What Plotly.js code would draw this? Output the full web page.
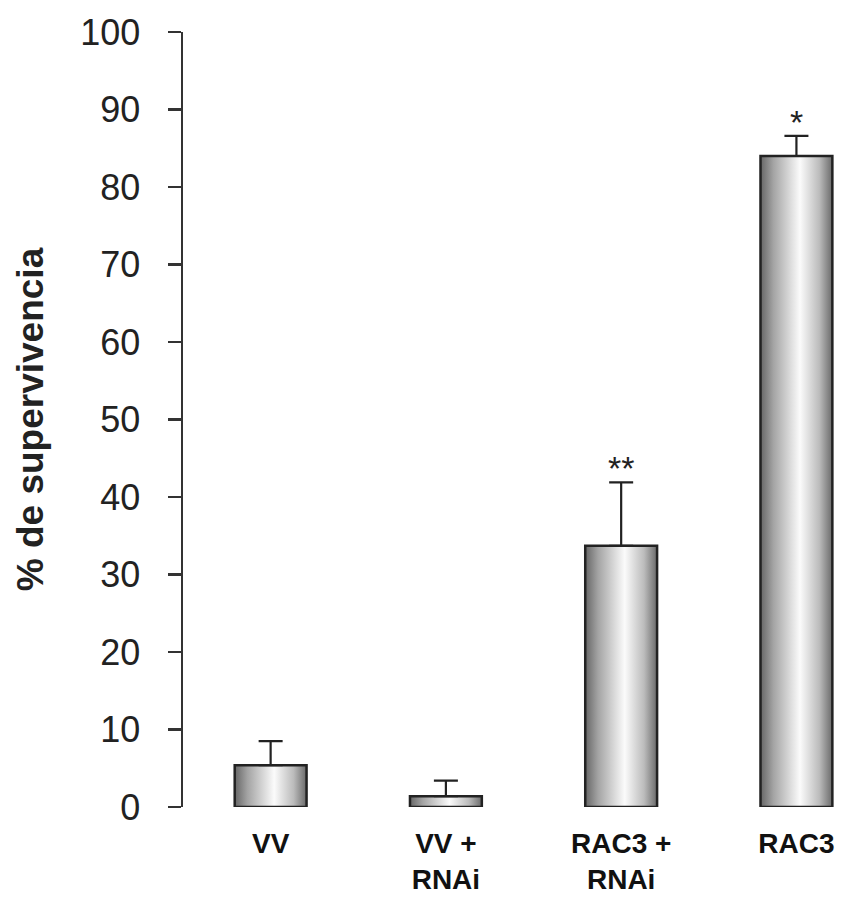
<!DOCTYPE html>
<html>
<head>
<meta charset="utf-8">
<script src="https://cdn.plot.ly/plotly-3.0.1.min.js"></script>
<style>
html,body{margin:0;padding:0;background:#fff;}
#chart{width:842px;height:898px;}
</style>
</head>
<body>
<div id="chart"></div>
<script>
const categories = ['VV', 'VV +<br>RNAi', 'RAC3 +<br>RNAi', 'RAC3'];
const survival = [5.4, 1.4, 33.7, 84.0];
const errorUp = [3.1, 2.0, 8.2, 2.6];
const significance = ['', '', '**', '*'];
const yTicks = [0, 10, 20, 30, 40, 50, 60, 70, 80, 90, 100];

const FONT = 'Liberation Sans, Arial, sans-serif';

const trace = {
  type: 'bar',
  x: categories,
  y: survival,
  width: 0.41,
  marker: {color: '#d8d8d8', line: {color: '#222', width: 2.5}},
  error_y: {type: 'data', symmetric: false, array: errorUp, arrayminus: errorUp.map(() => 0),
            color: '#222', thickness: 2.2, width: 12},
  cliponaxis: false,
  hoverinfo: 'none'
};

const annotations = [];
significance.forEach((s, i) => {
  if (s) annotations.push({
    x: categories[i], y: survival[i] + errorUp[i], xref: 'x', yref: 'y',
    text: s, showarrow: false, yshift: 14,
    font: {family: FONT, size: 34, color: '#222'}
  });
});

const layout = {
  width: 842, height: 898,
  margin: {l: 183, r: 0, t: 32, b: 91},
  paper_bgcolor: '#fff', plot_bgcolor: '#fff',
  showlegend: false,
  xaxis: {
    type: 'category', range: [-0.5, 3.26],
    showline: false, ticks: '', showgrid: false, zeroline: false,
    tickfont: {family: FONT, size: 28, color: '#111', weight: 'bold'},
    ticklabelstandoff: 17,
    automargin: false
  },
  yaxis: {
    range: [0, 100], tickvals: yTicks, ticktext: yTicks.map(String),
    showline: true, linecolor: '#333', linewidth: 2.5,
    ticks: 'outside', ticklen: 13, tickwidth: 2.5, tickcolor: '#333',
    showgrid: false, zeroline: false,
    tickfont: {family: FONT, size: 36, color: '#222'},
    ticklabelstandoff: 20,
    automargin: false,
    title: {text: '% de supervivencia', standoff: 26,
            font: {family: FONT, size: 37, color: '#222', weight: 'bold'}}
  },
  annotations: annotations
};

Plotly.newPlot('chart', [trace], layout, {staticPlot: true}).then(gd => {
  const svg = gd.querySelector('svg.main-svg');
  const ns = 'http://www.w3.org/2000/svg';
  let defs = svg.querySelector('defs');
  const grad = document.createElementNS(ns, 'linearGradient');
  grad.setAttribute('id', 'barGrad');
  grad.setAttribute('x1', '0'); grad.setAttribute('x2', '1');
  grad.setAttribute('y1', '0'); grad.setAttribute('y2', '0');
  [[0, '#666666'], [0.18, '#a4a4a4'], [0.55, '#fbfbfb'], [0.82, '#bbbbbb'], [1, '#6a6a6a']].forEach(([o, c]) => {
    const st = document.createElementNS(ns, 'stop');
    st.setAttribute('offset', o); st.setAttribute('stop-color', c);
    grad.appendChild(st);
  });
  defs.appendChild(grad);
  gd.querySelectorAll('g.trace.bars g.point path').forEach(p => { p.style.fill = 'url(#barGrad)'; });
});
</script>
</body>
</html>
